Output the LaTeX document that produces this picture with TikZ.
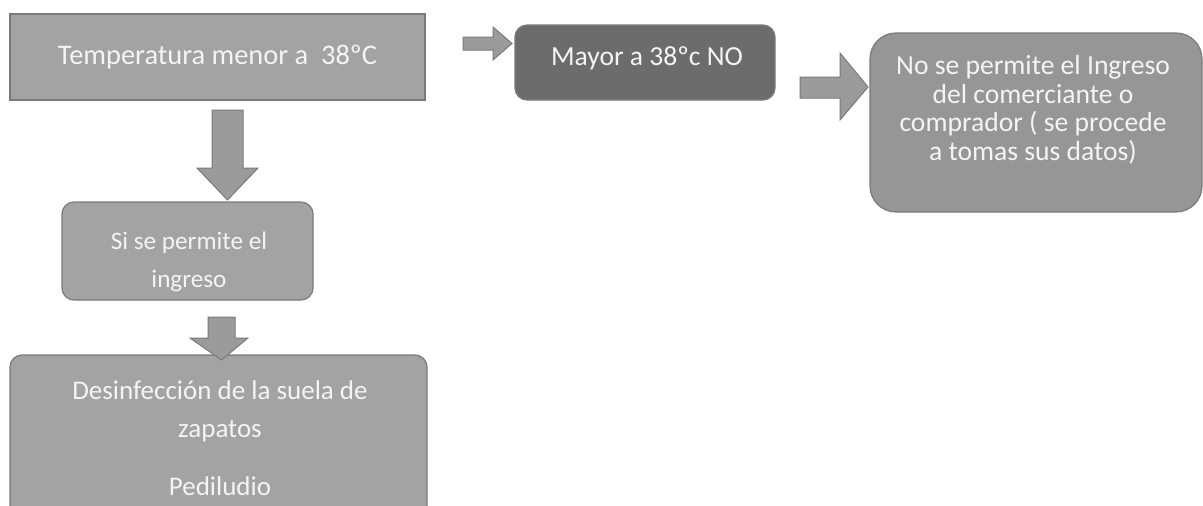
\documentclass[tikz,border=0pt]{standalone}
\usepackage{fontspec}
\setmainfont{Carlito}
\definecolor{boxgray}{HTML}{A3A3A3}
\definecolor{darkbox}{HTML}{6C6C6C}
\definecolor{edgegray}{HTML}{7A7A7A}
\definecolor{txtwhite}{HTML}{F4F4F4}
\begin{document}
\begin{tikzpicture}[x=1pt,y=-1pt,
  box/.style={draw=edgegray,line width=1.2pt,fill=boxgray,inner sep=0pt,text=txtwhite,align=center},
  sqbox/.style={box},
  rbox/.style={box,rounded corners=12pt},
  bigr/.style={box,rounded corners=26pt},
  txt/.style={text=txtwhite,align=center,inner sep=0pt},
  barrow/.style={draw=edgegray,line width=1pt,fill=boxgray!95!black}
]
\useasboundingbox (0,0) rectangle (1203,506);
\fill[white] (0,0) rectangle (1203,506);

% boxes
\node[sqbox,minimum width=415pt,minimum height=86pt,font=\fontsize{28.4}{33}\selectfont] (b1) at (217.5,57) {Temperatura menor a~~38ºC};
\node[rbox,fill=darkbox,minimum width=260pt,minimum height=75pt] (b2) at (645,62.5) {};
\node[txt,font=\fontsize{27.6}{33}\selectfont] (t2) at (647,58) {Mayor a 38ºc NO};
\node[bigr,fill=boxgray!92!black,minimum width=332pt,minimum height=179pt] (b3) at (1036,122.5) {};
\node[txt,font=\fontsize{27.6}{28.5}\selectfont] (t3) at (1033,110) {No se permite el Ingreso\\del comerciante o\\comprador ( se procede\\a tomas sus datos)};
\node[rbox,minimum width=251pt,minimum height=98pt] (b4) at (187.5,251) {};
\node[txt,font=\fontsize{25.2}{38}\selectfont] (t4) at (189,262) {Si se permite el\\ingreso};
\node[rbox,minimum width=417pt,minimum height=165pt] (b5) at (218.5,437.5) {};
\node[txt,font=\fontsize{27}{38}\selectfont] (t5) at (220,411) {Desinfección de la suela de\\zapatos};
\node[txt,font=\fontsize{27}{30}\selectfont] (t5b) at (220,486) {Pediludio};

% block arrows
\draw[barrow] (463,37) -- (493,37) -- (493,27) -- (512,43.5) -- (493,60) -- (493,50) -- (463,50) -- cycle;
\draw[barrow] (800,77) -- (840,77) -- (840,53) -- (868,87) -- (840,120) -- (840,98) -- (800,98) -- cycle;
\draw[barrow] (212,110) -- (243,110) -- (243,168) -- (258,168) -- (227.5,200) -- (197,168) -- (212,168) -- cycle;
\draw[barrow] (208,317) -- (235,317) -- (235,338) -- (248,338) -- (221.5,360) -- (190,338) -- (208,338) -- cycle;
\end{tikzpicture}
\end{document}
